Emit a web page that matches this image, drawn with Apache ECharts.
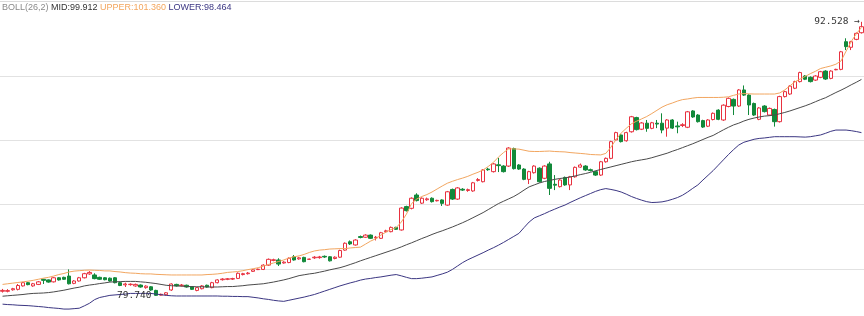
<!DOCTYPE html>
<html><head><meta charset="utf-8">
<script src="https://cdn.jsdelivr.net/npm/echarts@6/dist/echarts.min.js"></script>
<style>html,body{margin:0;padding:0;background:#fff}#c{width:864px;height:316px}</style>
</head><body><div id="c"></div>
<script>
// [open, close, low, high]
const ohlc = [
[79.96,80.00,79.90,80.07],[79.96,79.99,79.91,80.06],[80.03,80.08,79.99,80.12],[80.05,80.23,80.00,80.30],[80.21,80.36,80.18,80.40],
[80.36,80.27,80.24,80.39],[80.21,80.31,80.17,80.35],[80.28,80.40,80.25,80.44],[80.52,80.47,80.30,80.54],[80.49,80.39,80.36,80.51],
[80.40,80.59,80.37,80.62],[80.59,80.49,80.46,80.62],[80.61,80.52,80.49,80.64],[80.67,80.31,80.28,80.98],[80.33,80.44,80.29,80.48],
[80.44,80.59,80.41,80.63],[80.59,80.78,80.56,80.82],[80.77,80.84,80.73,80.90],[80.72,80.55,80.52,80.80],[80.61,80.52,80.49,80.64],
[80.59,80.50,80.47,80.62],[80.57,80.44,80.41,80.60],[80.59,80.36,80.33,80.62],[80.36,80.23,80.20,80.39],[80.26,80.30,80.16,80.36],
[80.27,80.29,80.22,80.33],[80.21,80.28,80.17,80.32],[80.25,80.16,80.13,80.28],[80.13,80.20,80.08,80.24],[80.17,80.02,79.98,80.20],
[80.00,79.77,79.74,80.03],[79.78,79.82,79.76,79.85],[79.80,79.89,79.77,79.92],[80.02,80.30,79.98,80.33],[80.28,80.21,80.18,80.31],
[80.22,80.25,80.18,80.30],[80.24,80.16,80.13,80.27],[80.17,80.05,80.02,80.20],[80.00,80.13,79.96,80.16],[80.08,80.21,80.05,80.25],
[80.24,80.16,80.13,80.27],[80.13,80.36,80.10,80.40],[80.36,80.49,80.33,80.52],[80.50,80.53,80.46,80.57],[80.52,80.54,80.48,80.58],
[80.53,80.55,80.49,80.59],[80.56,80.80,80.53,80.84],[80.74,80.78,80.70,80.82],[80.78,80.81,80.74,80.86],[80.89,80.96,80.86,81.00],
[80.97,80.99,80.95,81.02],[80.98,81.18,80.95,81.22],[81.18,81.45,81.15,81.49],[81.40,81.43,81.36,81.48],[81.42,81.23,81.14,81.50],
[81.28,81.32,81.25,81.36],[81.30,81.50,81.27,81.54],[81.57,81.42,81.39,81.65],[81.47,81.52,81.43,81.56],[81.54,81.34,81.31,81.57],
[81.45,81.46,81.43,81.48],[81.52,81.55,81.47,81.60],[81.53,81.56,81.48,81.61],[81.59,81.56,81.52,81.63],[81.57,81.38,81.35,81.60],
[81.49,81.55,81.45,81.59],[81.55,81.86,81.52,81.90],[81.88,82.20,81.85,82.24],[82.27,82.17,82.12,82.33],[82.12,82.35,82.09,82.39],
[82.51,82.47,82.43,82.56],[82.48,82.58,82.45,82.62],[82.58,82.43,82.40,82.61],[82.45,82.48,82.33,82.54],[82.43,82.69,82.40,82.73],
[82.74,82.78,82.70,82.83],[82.74,82.94,82.71,82.98],[82.94,82.85,82.82,82.97],[82.82,83.84,82.79,83.88],[83.91,83.72,83.68,83.95],
[83.83,84.30,83.78,84.34],[84.45,84.19,84.15,84.53],[84.07,84.30,84.03,84.34],[84.23,84.27,84.18,84.33],[84.30,84.14,84.10,84.34],
[84.18,84.20,84.15,84.23],[84.22,84.06,83.94,84.25],[83.98,84.60,83.95,84.64],[84.71,84.26,84.22,84.75],[84.26,84.78,84.22,84.82],
[84.72,84.68,84.64,84.77],[84.66,84.70,84.60,84.75],[84.64,85.02,84.60,85.06],[85.13,85.17,85.08,85.24],[85.07,85.62,85.04,85.66],
[85.66,85.63,85.58,85.72],[85.54,85.90,85.50,85.94],[85.86,85.82,85.52,86.18],[85.80,85.54,85.50,85.84],[85.80,86.64,85.76,86.68],
[86.62,85.68,85.64,86.66],[85.85,85.66,85.62,85.89],[85.66,85.18,85.14,85.70],[85.18,85.54,84.96,85.58],[85.49,85.80,85.45,85.84],
[85.70,85.07,85.03,85.74],[85.23,85.80,85.19,85.84],[85.90,84.76,84.45,86.00],[84.95,84.91,84.68,85.38],[84.84,85.15,84.80,85.19],
[85.27,84.92,84.88,85.31],[84.92,85.30,84.68,85.34],[85.30,85.74,85.26,85.78],[85.75,85.85,85.72,85.92],[85.80,85.62,85.58,85.84],
[85.63,85.59,85.55,85.68],[85.54,85.38,85.34,85.58],[85.38,86.00,85.34,86.04],[86.00,86.16,85.96,86.20],[86.16,86.94,86.12,86.98],
[87.02,87.36,86.98,87.40],[87.25,86.94,86.90,87.30],[86.98,87.36,86.94,87.40],[87.40,88.10,87.36,88.14],[88.06,87.50,87.46,88.10],
[87.52,87.81,87.48,87.85],[87.80,87.56,87.40,87.95],[87.56,87.82,87.52,87.86],[87.80,87.76,87.57,87.95],[87.80,87.48,87.33,88.26],
[87.57,87.95,87.17,87.99],[87.95,87.57,87.53,87.99],[87.67,87.63,87.33,87.87],[87.69,87.73,87.62,87.80],[87.61,88.33,87.57,88.37],
[88.37,88.09,88.05,88.41],[88.18,87.87,87.83,88.22],[87.92,87.62,87.58,87.96],[87.66,87.95,87.62,87.99],[87.97,88.26,87.93,88.30],
[88.41,87.98,87.94,88.45],[87.95,88.64,87.91,88.68],[88.58,88.96,88.54,89.00],[88.91,88.60,88.18,88.95],[88.60,89.35,88.56,89.39],
[89.35,89.11,89.07,89.56],[89.11,88.65,88.18,89.15],[88.72,88.18,88.14,88.76],[87.98,88.51,87.94,88.55],[88.60,88.34,88.30,88.64],
[88.18,88.49,88.14,88.53],[88.44,87.87,87.64,88.48],[87.87,89.04,87.83,89.08],[89.04,89.27,89.00,89.31],[89.16,89.53,89.12,89.57],
[89.43,89.74,89.39,89.78],[89.74,90.16,89.70,90.20],[90.00,89.85,89.81,90.04],[89.94,89.74,89.70,89.98],[89.81,90.00,89.77,90.04],
[89.94,90.20,89.90,90.24],[90.23,89.86,89.82,90.27],[89.89,90.23,89.85,90.27],[90.29,90.31,90.27,90.34],[90.31,91.13,90.27,91.17],
[91.60,91.37,91.21,91.76],[91.34,91.60,91.21,91.64],[91.71,91.99,91.67,92.03],[92.02,92.30,91.98,92.528]
];
const upper = [80.28,80.31,80.34,80.37,80.40,80.43,80.47,80.52,80.57,80.61,
80.67,80.74,80.79,80.86,80.90,80.92,80.94,80.95,80.94,80.93,
80.91,80.91,80.88,80.86,80.83,80.81,80.80,80.78,80.77,80.77,
80.75,80.74,80.73,80.72,80.72,80.72,80.72,80.72,80.72,80.72,
80.74,80.75,80.77,80.80,80.84,80.86,80.88,80.92,80.97,81.01,
81.06,81.13,81.21,81.28,81.35,81.42,81.51,81.57,81.61,81.68,
81.77,81.84,81.88,81.90,81.93,81.94,81.95,81.95,81.98,82.00,
82.02,82.16,82.30,82.41,82.58,82.72,82.84,82.93,83.19,83.56,
84.05,84.26,84.38,84.47,84.59,84.73,84.87,85.00,85.09,85.17,
85.24,85.32,85.42,85.51,85.62,85.78,85.97,86.22,86.43,86.60,
86.60,86.59,86.54,86.49,86.48,86.48,86.49,86.50,86.48,86.47,
86.46,86.43,86.41,86.39,86.37,86.34,86.33,86.32,86.39,86.68,
87.04,87.34,87.56,87.77,87.89,88.00,88.11,88.25,88.40,88.55,
88.66,88.74,88.83,88.90,88.93,88.97,89.00,89.00,89.00,89.00,
89.00,89.01,89.03,89.10,89.16,89.18,89.17,89.16,89.16,89.16,
89.16,89.16,89.21,89.35,89.54,89.73,89.86,89.98,90.11,90.22,
90.35,90.41,90.47,90.55,90.70,91.16,91.61,91.97,92.26];
const mid = [79.73,79.75,79.77,79.79,79.81,79.84,79.86,79.87,79.88,79.90,
79.93,79.97,80.01,80.06,80.11,80.15,80.21,80.25,80.28,80.32,
80.35,80.39,80.40,80.41,80.42,80.42,80.42,80.40,80.38,80.35,
80.32,80.28,80.24,80.22,80.21,80.20,80.18,80.18,80.17,80.17,
80.16,80.16,80.16,80.17,80.18,80.18,80.20,80.22,80.25,80.27,
80.29,80.31,80.35,80.39,80.44,80.49,80.55,80.62,80.69,80.73,
80.77,80.80,80.85,80.90,80.96,81.01,81.06,81.13,81.21,81.29,
81.38,81.46,81.54,81.62,81.70,81.78,81.86,81.94,82.03,82.13,
82.22,82.32,82.42,82.51,82.61,82.70,82.78,82.87,82.96,83.06,
83.16,83.27,83.39,83.51,83.63,83.77,83.91,84.05,84.16,84.27,
84.38,84.52,84.68,84.83,84.92,85.01,85.08,85.13,85.18,85.22,
85.25,85.29,85.34,85.40,85.45,85.51,85.58,85.64,85.70,85.76,
85.82,85.88,85.94,86.00,86.05,86.09,86.13,86.19,86.26,86.33,
86.40,86.49,86.57,86.66,86.75,86.84,86.94,87.04,87.14,87.23,
87.36,87.49,87.61,87.72,87.80,87.90,87.98,88.04,88.09,88.13,
88.15,88.18,88.24,88.30,88.37,88.45,88.53,88.61,88.70,88.80,
88.90,88.99,89.11,89.23,89.34,89.46,89.59,89.71,89.84];
const lower = [79.36,79.34,79.33,79.31,79.30,79.29,79.27,79.25,79.23,79.20,
79.18,79.16,79.13,79.13,79.15,79.17,79.28,79.40,79.57,79.67,
79.72,79.77,79.79,79.81,79.83,79.86,79.86,79.86,79.86,79.86,
79.83,79.80,79.77,79.75,79.74,79.74,79.74,79.74,79.74,79.74,
79.74,79.74,79.74,79.73,79.73,79.72,79.72,79.71,79.71,79.68,
79.65,79.61,79.58,79.54,79.51,79.49,79.54,79.59,79.64,79.69,
79.75,79.81,79.89,79.97,80.05,80.13,80.21,80.28,80.35,80.41,
80.48,80.53,80.56,80.60,80.63,80.67,80.71,80.74,80.68,80.61,
80.55,80.55,80.57,80.60,80.63,80.70,80.77,80.85,80.98,81.14,
81.30,81.43,81.54,81.65,81.76,81.88,81.99,82.11,82.24,82.38,
82.52,82.66,82.93,83.19,83.38,83.48,83.58,83.69,83.79,83.89,
83.98,84.10,84.21,84.32,84.42,84.52,84.62,84.70,84.75,84.71,
84.66,84.59,84.49,84.38,84.29,84.21,84.14,84.10,84.11,84.13,
84.18,84.25,84.33,84.44,84.59,84.76,84.92,85.15,85.37,85.59,
85.84,86.09,86.34,86.57,86.78,86.91,86.98,87.05,87.09,87.11,
87.14,87.17,87.17,87.17,87.17,87.17,87.16,87.15,87.17,87.21,
87.25,87.33,87.42,87.48,87.48,87.48,87.45,87.41,87.36];
const legendParts = ['BOLL(26,2)', 'MID:99.912', 'UPPER:101.360', 'LOWER:98.464'];
const yMin = 78, yMax = 93, yInterval = 3;
const categories = ohlc.map((_, i) => String(i + 1));

const FONT = 'Liberation Sans';
const MARK_FONT = 'DejaVu Sans Mono';
const chart = echarts.init(document.getElementById('c'), null, {renderer: 'canvas'});
chart.setOption({
  animation: false,
  backgroundColor: '#ffffff',
  title: {
    left: 2, top: 3, padding: 0,
    text: '{a|' + legendParts[0] + '} {b|' + legendParts[1] + '} {c|' + legendParts[2] + '} {d|' + legendParts[3] + '}',
    textStyle: {
      fontSize: 9, fontFamily: FONT, fontWeight: 'normal',
      rich: {
        a: {color: '#8a8a8a', fontSize: 9, fontFamily: FONT},
        b: {color: '#333333', fontSize: 9, fontFamily: FONT},
        c: {color: '#f3a65e', fontSize: 9, fontFamily: FONT},
        d: {color: '#3b3682', fontSize: 9, fontFamily: FONT}
      }
    }
  },
  grid: {left: 0, right: 0, top: 11.7, height: 321.6, outerBoundsMode: 'none', containLabel: false},
  xAxis: {
    type: 'category', data: categories, position: 'top', offset: 10.6, boundaryGap: true,
    axisLine: {show: true, lineStyle: {color: '#dcdcdc', width: 1}},
    axisTick: {show: false}, axisLabel: {show: false}, splitLine: {show: false}
  },
  yAxis: {
    type: 'value', min: yMin, max: yMax, interval: yInterval,
    axisLine: {show: false}, axisTick: {show: false}, axisLabel: {show: false},
    splitLine: {show: true, showMaxLine: false, lineStyle: {color: '#e2e2e2', width: 1}}
  },
  series: [
    {
      type: 'candlestick', data: ohlc, barWidth: '76%',
      itemStyle: {color: '#ffffff', color0: '#12893a', borderColor: '#e8313f', borderColor0: '#12893a', borderWidth: 1},
      markPoint: {
        symbol: 'circle', symbolSize: 1, itemStyle: {color: 'rgba(0,0,0,0)'},
        label: {show: true, position: 'left', distance: 1, color: '#333333', fontSize: 9.5, fontFamily: MARK_FONT},
        data: [
          {type: 'max', valueDim: 'highest', label: {formatter: p => Number(p.value).toFixed(3) + ' →'}},
          {type: 'min', valueDim: 'lowest', label: {distance: 4, formatter: p => Number(p.value).toFixed(3)}}
        ]
      }
    },
    {type: 'line', data: upper, symbol: 'none', silent: true, lineStyle: {width: 1, color: '#f2a660'}},
    {type: 'line', data: mid, symbol: 'none', silent: true, lineStyle: {width: 1, color: '#4a4a4a'}},
    {type: 'line', data: lower, symbol: 'none', silent: true, lineStyle: {width: 1, color: '#3b3682'}}
  ]
});
</script></body></html>
